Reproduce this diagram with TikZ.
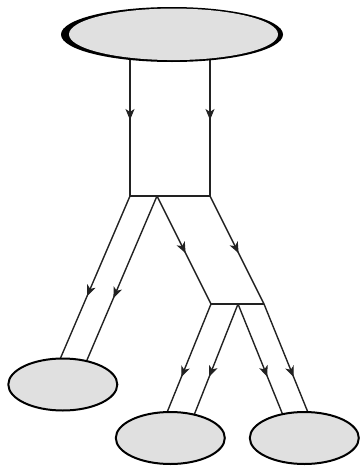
\documentclass[tikz,border=0pt]{standalone}
\usetikzlibrary{arrows.meta,decorations.markings,backgrounds,shapes.geometric}
\definecolor{linec}{HTML}{222222}
\definecolor{fillc}{HTML}{E0E0E0}
\tikzset{
  conn/.style={draw=linec, line width=1.4pt},
  arr/.style={postaction={decorate}, decoration={markings,
     mark=at position #1 with {\arrow[linec]{Stealth[length=11pt,width=9pt,inset=3pt]}}}},
  blob/.style={ellipse, draw=black, fill=fillc, line width=2pt, inner sep=0pt, outer sep=0pt,
     minimum width=109pt, minimum height=52pt},
}
\begin{document}
\begin{tikzpicture}[x=1pt,y=-1pt]
\useasboundingbox (0,0) rectangle (359,466);
% top ellipse with dark rim
\node[ellipse, fill=black, inner sep=0pt, minimum width=222pt, minimum height=55pt] (topshadow) at (172,34.5) {};
\node[ellipse, fill=fillc, inner sep=0pt, minimum width=209pt, minimum height=51.5pt] (top) at (173.5,34.3) {};
% lower ellipses
\node[blob] (left) at (62.8,384.5) {};
\node[blob] (mid) at (170.3,438) {};
\node[blob] (right) at (304.3,438) {};
% junctions
\coordinate (jA) at (130,196);
\coordinate (jB) at (157,196);
\coordinate (jC) at (210,196);
\coordinate (kA) at (211,304);
\coordinate (kB) at (238,304);
\coordinate (kC) at (264,304);
% connector ends inside the ellipses
\coordinate (e1) at (59.6,360.2);
\coordinate (e2) at (85.6,363.3);
\coordinate (e5) at (166.7,413.2);
\coordinate (e6) at (193.7,416);
\coordinate (e7) at (283.3,416);
\coordinate (e8) at (308.3,413.2);
\begin{scope}[on background layer]
  \draw[conn, arr=0.53] (jA |- top.center) -- (jA);
  \draw[conn, arr=0.53] (jC |- top.center) -- (jC);
  \draw[conn] (jA) -- (jC);
  \draw[conn, arr=0.61] (jA) -- (e1);
  \draw[conn, arr=0.61] (jB) -- (e2);
  \draw[conn, arr=0.53] (jB) -- (kA);
  \draw[conn, arr=0.53] (jC) -- (kC);
  \draw[conn] (kA) -- (kC);
  \draw[conn, arr=0.67] (kA) -- (e5);
  \draw[conn, arr=0.65] (kB) -- (e6);
  \draw[conn, arr=0.65] (kB) -- (e7);
  \draw[conn, arr=0.67] (kC) -- (e8);
\end{scope}
\end{tikzpicture}
\end{document}
